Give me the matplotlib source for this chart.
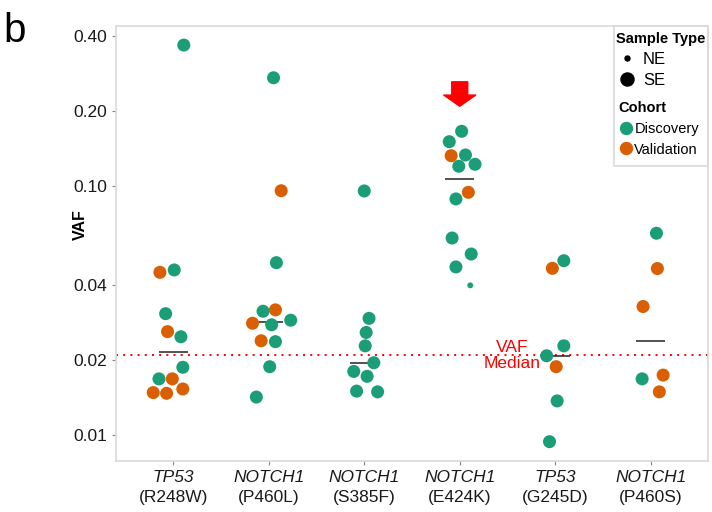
import numpy as np
import matplotlib.pyplot as plt
from matplotlib.lines import Line2D
from matplotlib.patches import Rectangle

plt.rcParams['font.family'] = ['Liberation Sans', 'DejaVu Sans']

genes = ['TP53', 'NOTCH1', 'NOTCH1', 'NOTCH1', 'TP53', 'NOTCH1']
mutations = ['R248W', 'P460L', 'S385F', 'E424K', 'G245D', 'P460S']

# VAF values, D = Discovery, V = Validation
vaf_r248w = [0.368, 0.045, 0.046, 0.0307, 0.026, 0.0248, 0.0187, 0.0168, 0.0168, 0.0148, 0.0147, 0.0153]
coh_r248w = ['D', 'V', 'D', 'D', 'V', 'D', 'D', 'D', 'V', 'V', 'V', 'V']
jit_r248w = [0.11, -0.14, 0.01, -0.08, -0.06, 0.08, 0.10, -0.15, -0.01, -0.21, -0.07, 0.10]

vaf_p460l = [0.272, 0.0957, 0.0492, 0.0314, 0.0318, 0.0281, 0.0277, 0.0289, 0.0239, 0.0237, 0.0188, 0.0142]
coh_p460l = ['D', 'V', 'D', 'D', 'V', 'V', 'D', 'D', 'V', 'D', 'D', 'D']
jit_p460l = [0.05, 0.13, 0.08, -0.06, 0.07, -0.17, 0.03, 0.23, -0.08, 0.07, 0.01, -0.13]

vaf_s385f = [0.0955, 0.0294, 0.0258, 0.0228, 0.0195, 0.018, 0.0172, 0.015, 0.0149]
coh_s385f = ['D', 'D', 'D', 'D', 'D', 'D', 'D', 'D', 'D']
jit_s385f = [0.0, 0.05, 0.02, 0.01, 0.10, -0.11, 0.03, -0.08, 0.14]

vaf_e424k = [0.1658, 0.1506, 0.1323, 0.1332, 0.120, 0.1222, 0.0943, 0.0887, 0.0618, 0.0533, 0.0473, 0.0399]
coh_e424k = ['D', 'D', 'V', 'D', 'D', 'D', 'V', 'D', 'D', 'D', 'D', 'D']
jit_e424k = [0.02, -0.11, -0.09, 0.06, -0.01, 0.16, 0.09, -0.04, -0.08, 0.12, -0.04, 0.11]
type_e424k = ['SE'] * 11 + ['NE']

vaf_g245d = [0.0467, 0.0501, 0.0228, 0.0208, 0.0188, 0.0137, 0.0094]
coh_g245d = ['V', 'D', 'D', 'D', 'V', 'D', 'D']
jit_g245d = [-0.03, 0.09, 0.09, -0.09, 0.01, 0.02, -0.06]

vaf_p460s = [0.0646, 0.0466, 0.0328, 0.0168, 0.0174, 0.0149]
coh_p460s = ['D', 'V', 'V', 'D', 'V', 'V']
jit_p460s = [0.06, 0.07, -0.08, -0.09, 0.13, 0.09]

vaf_median = 0.0209

all_vaf = [vaf_r248w, vaf_p460l, vaf_s385f, vaf_e424k, vaf_g245d, vaf_p460s]
all_coh = [coh_r248w, coh_p460l, coh_s385f, coh_e424k, coh_g245d, coh_p460s]
all_jit = [jit_r248w, jit_p460l, jit_s385f, jit_e424k, jit_g245d, jit_p460s]
all_type = [['SE'] * len(v) for v in all_vaf]
all_type[3] = type_e424k

colors = {'D': '#1b9e77', 'V': '#d95f02'}
sizes = {'SE': 88, 'NE': 18}

fig = plt.figure(figsize=(7.12, 5.12), dpi=100)
ax = fig.add_axes([0.1629, 0.0996, 0.8315, 0.8496])

for i in range(len(mutations)):
    x = i + 1 + np.array(all_jit[i])
    v = np.array(all_vaf[i])
    c = [colors[k] for k in all_coh[i]]
    s = [sizes[k] for k in all_type[i]]
    # median on the log scale, like ggplot does after the transform
    med = 10 ** np.median(np.log10(v))
    ax.hlines(med, i + 1 - 0.15, i + 1 + 0.15, color='#222222', lw=1.1, zorder=2)
    ax.scatter(x, v, c=c, s=s, linewidths=0, zorder=3)

ax.axhline(vaf_median, color='red', lw=1.4, linestyle=(0, (1, 2.7)), zorder=1)
ax.text(4.544, vaf_median, 'VAF\nMedian', color='red', fontsize=12.5,
        ha='center', va='center', multialignment='center', linespacing=1.1, zorder=4)

# red arrow over E424K
ax.annotate('', xy=(4, 0.209), xytext=(4, 0.262),
            arrowprops=dict(arrowstyle='simple,head_width=1.0,head_length=0.35,tail_width=0.5',
                            color='red', mutation_scale=23, shrinkA=0, shrinkB=0))

ax.set_yscale('log')
ax.set_ylim(0.00786, 0.439)
ax.set_xlim(0.4, 6.6)
ax.set_yticks([0.01, 0.02, 0.04, 0.1, 0.2, 0.4])
ax.set_yticklabels(['0.01', '0.02', '0.04', '0.10', '0.20', '0.40'])
ax.minorticks_off()
ax.set_xticks(range(1, 7))
ax.set_xticklabels([''] * 6)
ax.tick_params(axis='both', labelsize=12.5, colors='#888888', labelcolor='#1a1a1a',
               length=3, width=0.8)
for sp in ax.spines.values():
    sp.set_color('#d9d9d9')
    sp.set_linewidth(1.2)

# two-line category labels, gene name in italics
xtr = ax.get_xaxis_transform()
for i, (g, m) in enumerate(zip(genes, mutations)):
    ax.text(i + 1, -0.039, g, transform=xtr, ha='center', va='center',
            fontsize=12.5, style='italic', color='#1a1a1a')
    ax.text(i + 1, -0.085, '(' + m + ')', transform=xtr, ha='center', va='center',
            fontsize=12.5, color='#1a1a1a')

ax.set_ylabel('VAF', fontsize=11.5, fontweight='bold')
ax.yaxis.set_label_coords(-0.047, 0.5425)

fig.text(0.005, 0.918, 'b', fontsize=29, va='baseline')

# legends
ne = Line2D([], [], ls='', marker='o', color='black', markersize=3.6)
se = Line2D([], [], ls='', marker='o', color='black', markersize=9.4)
leg1 = ax.legend([ne, se], ['NE', 'SE'], title='Sample Type', loc='upper left',
                 bbox_to_anchor=(0.841, 0.991), frameon=False, fontsize=12,
                 title_fontproperties={'weight': 'bold', 'size': 10.5}, alignment='left',
                 handlelength=1.3, handletextpad=0.3, labelspacing=0.35, borderpad=0.15,
                 borderaxespad=0)
ax.add_artist(leg1)
disc = Line2D([], [], ls='', marker='o', color=colors['D'], markersize=8.6)
val = Line2D([], [], ls='', marker='o', color=colors['V'], markersize=8.6)
leg2 = ax.legend([disc, val], ['Discovery', 'Validation'], title='Cohort', loc='upper left',
                 bbox_to_anchor=(0.846, 0.83), frameon=False, fontsize=10.5,
                 title_fontproperties={'weight': 'bold', 'size': 10.5}, alignment='left',
                 handlelength=1.0, handletextpad=0.1, labelspacing=0.45, borderpad=0.1,
                 borderaxespad=0)
ax.add_patch(Rectangle((0.841, 0.678), 0.159, 0.322, transform=ax.transAxes, fill=False,
                       edgecolor='#d9d9d9', lw=1.2, clip_on=False, zorder=5))

fig.savefig('out.png', dpi=100)
